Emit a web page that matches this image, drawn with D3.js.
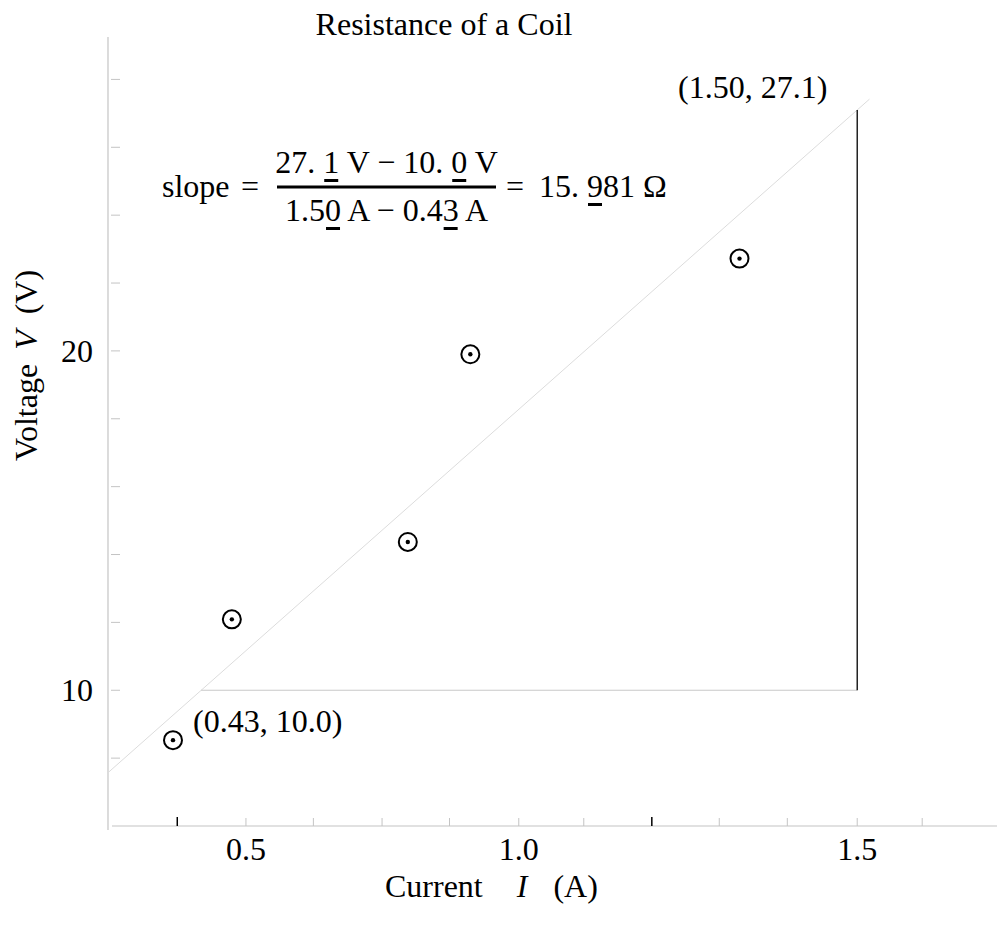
<!DOCTYPE html>
<html>
<head>
<meta charset="utf-8">
<script src="https://cdn.jsdelivr.net/npm/d3@7"></script>
<style>
  body { margin: 0; background: #fff; }
  text { font-family: "Liberation Serif", "Times New Roman", serif; fill: #000; white-space: pre; }
</style>
</head>
<body>
<div id="chart"></div>
<script>
// measured data (current in A, voltage in V)
const current = [0.384, 0.480, 0.767, 0.869, 1.308];
const voltage = [8.53, 12.09, 14.37, 19.90, 22.72];

// slope triangle end points and fit
const pointA = [0.43, 10.0];
const pointB = [1.50, 27.1];
const slope = 15.981;
const fitExtent = [0.278, 1.52];

// axis ticks as drawn in the original
const xTicks = [0.391, 0.503, 0.613, 0.725, 0.835, 0.948, 1.054, 1.165, 1.275, 1.386, 1.500, 1.606];
const xDarkTicks = [0.391, 1.165];
const xLabelPos = [0.503, 0.948, 1.500];
const xLabelText = ["0.5", "1.0", "1.5"];
const yTicks = [8, 10, 12, 14, 16, 18, 20, 22, 24, 26, 28];
const yLabelVals = [10, 20];

const width = 997, height = 934;
const plotLeft = 108, plotRight = 997, plotTop = 37, plotBottom = 826;

const svg = d3.select("#chart")
    .append("svg")
    .attr("width", width)
    .attr("height", height);

const x = d3.scaleLinear()
    .domain([0.278, 1.728])
    .range([plotLeft, plotRight]);

const y = d3.scaleLinear()
    .domain([6.0, 29.25])
    .range([plotBottom, plotTop]);

// axis lines
svg.append("line")
    .attr("x1", plotLeft).attr("x2", plotLeft)
    .attr("y1", plotTop).attr("y2", plotBottom + 4)
    .attr("stroke", "#c4c4c4").attr("stroke-width", 1.2);

svg.append("line")
    .attr("x1", plotLeft + 4).attr("x2", plotRight)
    .attr("y1", plotBottom).attr("y2", plotBottom)
    .attr("stroke", "#c4c4c4").attr("stroke-width", 1.2);

// x ticks
svg.selectAll(".xtick")
    .data(xTicks)
    .enter().append("line")
    .attr("class", "xtick")
    .attr("x1", d => x(d)).attr("x2", d => x(d))
    .attr("y1", plotBottom).attr("y2", d => plotBottom - (xDarkTicks.includes(d) ? 9 : 8))
    .attr("stroke", d => xDarkTicks.includes(d) ? "#000" : "#c4c4c4")
    .attr("stroke-width", d => xDarkTicks.includes(d) ? 1.5 : 1);

svg.selectAll(".xlabel")
    .data(xLabelPos)
    .enter().append("text")
    .attr("class", "xlabel")
    .attr("x", d => x(d))
    .attr("y", 860)
    .attr("text-anchor", "middle")
    .style("font-size", "32px")
    .text((d, i) => xLabelText[i]);

// y ticks
svg.selectAll(".ytick")
    .data(yTicks)
    .enter().append("line")
    .attr("class", "ytick")
    .attr("x1", plotLeft + 3).attr("x2", plotLeft + 12)
    .attr("y1", d => y(d)).attr("y2", d => y(d))
    .attr("stroke", "#c4c4c4").attr("stroke-width", 1);

svg.selectAll(".ylabel")
    .data(yLabelVals)
    .enter().append("text")
    .attr("class", "ylabel")
    .attr("x", 93)
    .attr("y", d => y(d) + 11)
    .attr("text-anchor", "end")
    .style("font-size", "32px")
    .text(d => d);

// fit line
const fit = v => pointA[1] + slope * (v - pointA[0]);
svg.append("line")
    .attr("x1", x(fitExtent[0])).attr("y1", y(fit(fitExtent[0])))
    .attr("x2", x(fitExtent[1])).attr("y2", y(fit(fitExtent[1])))
    .attr("stroke", "#dcdcdc").attr("stroke-width", 1);

// slope triangle
svg.append("line")
    .attr("x1", x(pointA[0])).attr("x2", x(pointB[0]))
    .attr("y1", y(pointA[1])).attr("y2", y(pointA[1]))
    .attr("stroke", "#c8c8c8").attr("stroke-width", 1.2);

svg.append("line")
    .attr("x1", x(pointB[0])).attr("x2", x(pointB[0]))
    .attr("y1", y(pointA[1])).attr("y2", y(pointB[1]))
    .attr("stroke", "#000").attr("stroke-width", 1.3);

// data points
const pts = svg.selectAll(".pt")
    .data(current.map((c, i) => [c, voltage[i]]))
    .enter().append("g")
    .attr("class", "pt")
    .attr("transform", d => `translate(${x(d[0])}, ${y(d[1])})`);

pts.append("circle")
    .attr("r", 9)
    .attr("fill", "none")
    .attr("stroke", "#000")
    .attr("stroke-width", 2);

pts.append("circle")
    .attr("r", 2.2)
    .attr("fill", "#000");

// point annotations
svg.append("text")
    .attr("x", 193).attr("y", 732)
    .style("font-size", "32px")
    .text(`(${pointA[0].toFixed(2)}, ${pointA[1].toFixed(1)})`);

svg.append("text")
    .attr("x", 678).attr("y", 98)
    .style("font-size", "32px")
    .text(`(${pointB[0].toFixed(2)}, ${pointB[1].toFixed(1)})`);

// slope formula with underlined digits
function mathText(px, py, str, marks, anchor) {
    const t = svg.append("text")
        .attr("x", px).attr("y", py)
        .attr("text-anchor", anchor || "start")
        .style("font-size", "32px")
        .text(str);
    marks.forEach(i => {
        const b = t.node().getExtentOfChar(i);
        svg.append("rect")
            .attr("x", b.x + 1).attr("y", py + 6)
            .attr("width", b.width - 2).attr("height", 3)
            .attr("fill", "#000");
    });
}

svg.append("text").attr("x", 162).attr("y", 197).style("font-size", "32px").text("slope");
svg.append("text").attr("x", 241).attr("y", 197).style("font-size", "32px").text("=");
svg.append("rect").attr("x", 277).attr("y", 185.5).attr("width", 219).attr("height", 3).attr("fill", "#000");
mathText(386.5, 173, "27. 1 V \u2212 10. 0 V", [4, 14], "middle");
mathText(386.5, 221, "1.50 A \u2212 0.43 A", [3, 12], "middle");
svg.append("text").attr("x", 506).attr("y", 197).style("font-size", "32px").text("=");
mathText(539, 197, "15. 981 \u03A9", [4]);

// title and axis labels
svg.append("text")
    .attr("x", 444).attr("y", 35)
    .attr("text-anchor", "middle")
    .style("font-size", "32px")
    .text("Resistance of a Coil");

const xl = svg.append("text")
    .attr("x", 385).attr("y", 897)
    .style("font-size", "32px");
xl.append("tspan").text("Current");
xl.append("tspan").attr("dx", 34).style("font-style", "italic").text("I");
xl.append("tspan").attr("dx", 26).text("(A)");

const yl = svg.append("text")
    .attr("transform", "translate(37, 461) rotate(-90)")
    .style("font-size", "32px");
yl.append("tspan").text("Voltage");
yl.append("tspan").attr("dx", 14).style("font-style", "italic").text("V");
yl.append("tspan").attr("dx", 16).text("(V)");
</script>
</body>
</html>
